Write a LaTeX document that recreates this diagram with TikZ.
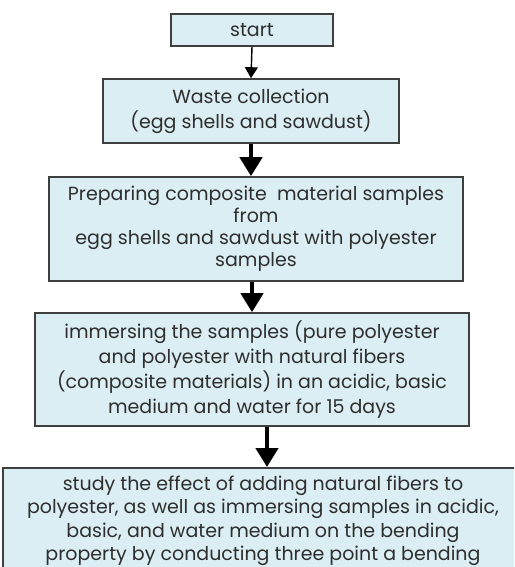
\documentclass[tikz,border=0pt]{standalone}
\usepackage{fontspec}
\setmainfont{Poppins}
\usetikzlibrary{arrows.meta}
\definecolor{boxfill}{HTML}{DAEEF3}
\definecolor{boxline}{HTML}{3F3F3F}
\definecolor{boxtext}{HTML}{2E2E2E}

\begin{document}
\begin{tikzpicture}[x=1pt,y=-1pt,
    every node/.style={font=\fontsize{19}{25}\selectfont, text=boxtext},
    stepbox/.style={draw=boxline, line width=1.6pt, fill=boxfill, align=center, inner sep=0pt},
    thinarrow/.style={line width=1.4pt, -{Triangle[width=13pt,length=11pt]}},
    fatarrow/.style={line width=4.5pt, -{Triangle[width=22pt,length=19pt]}}]
    \useasboundingbox (0,0) rectangle (514,567);
    \clip (0,0) rectangle (514,567);

    % Steps of the work, top to bottom
    \node[stepbox, minimum width=162, minimum height=32] (start) at (252,30) {start};
    \node[stepbox, minimum width=296, minimum height=64] (waste) at (251,111)
        {Waste collection\\(egg shells and sawdust)};
    \node[stepbox, minimum width=414, minimum height=104,
          font=\fontsize{19}{22}\selectfont] (prep) at (256,229)
        {Preparing composite\ \ material samples\\from\\egg shells and sawdust with polyester\\samples};
    \node[stepbox, minimum width=434, minimum height=113] (immerse) at (252,369.5)
        {immersing the samples (pure polyester\\and polyester with natural fibers\\(composite materials) in an acidic, basic\\medium and water for 15 days};
    % last box runs off the page
    \node[stepbox, anchor=north, minimum width=520, inner ysep=8,
          font=\fontsize{19}{23.5}\selectfont] (study) at (263,467)
        {study the effect of adding natural fibers to\\polyester, as well as immersing samples in acidic,\\basic, and water medium on the bending\\property by conducting three point a bending};

    % Arrows between the steps
    \draw[thinarrow] (start.south) -- (waste.north);
    \draw[fatarrow] (waste.south) -- (waste.south |- prep.north);
    \draw[fatarrow] (immerse.north |- prep.south) -- (immerse.north);
    \draw[fatarrow] ([xshift=15pt]immerse.south) -- ([xshift=15pt]immerse.south |- study.north);
\end{tikzpicture}
\end{document}
